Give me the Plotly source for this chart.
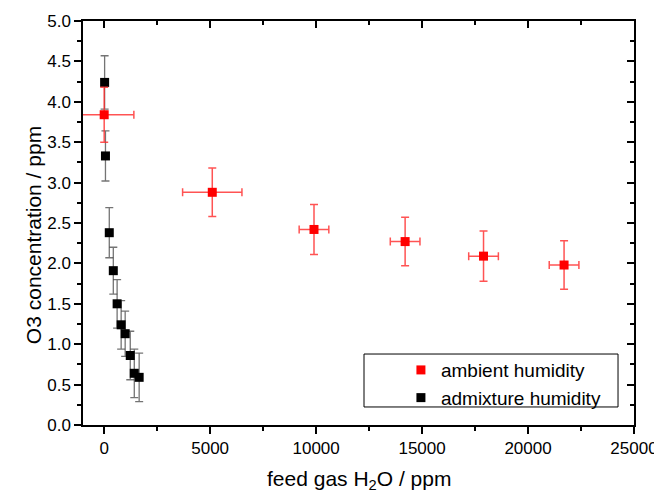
import plotly.graph_objects as go

# ambient humidity (red)
amb_h2o = [0, 5100, 9900, 14200, 17900, 21700]
amb_h2o_err = [1400, 1400, 700, 700, 700, 700]
amb_o3 = [3.84, 2.88, 2.42, 2.27, 2.09, 1.98]
amb_o3_err = [0.34, 0.30, 0.31, 0.30, 0.31, 0.30]

# admixture humidity (black)
adm_h2o = [20, 60, 240, 430, 610, 800, 990, 1230, 1420, 1650]
adm_o3 = [4.24, 3.33, 2.38, 1.91, 1.50, 1.24, 1.13, 0.86, 0.64, 0.59]
adm_o3_err = [0.33, 0.31, 0.31, 0.29, 0.30, 0.30, 0.28, 0.30, 0.30, 0.30]

fnt = "Liberation Sans, Arial, sans-serif"

fig = go.Figure()

fig.add_trace(go.Scatter(
    x=adm_h2o, y=adm_o3, mode="markers", name="admixture humidity",
    marker=dict(symbol="square", size=9, color="black"),
    error_y=dict(type="data", array=adm_o3_err, color="rgba(70,70,70,0.75)",
                 thickness=1.3, width=4),
))
# red series on the mirrored (top/right) axes so those get drawn too
fig.add_trace(go.Scatter(
    x=amb_h2o, y=amb_o3, mode="markers", name="ambient humidity",
    xaxis="x2", yaxis="y2",
    marker=dict(symbol="square", size=9, color="red"),
    error_y=dict(type="data", array=amb_o3_err, color="rgba(255,40,40,0.8)",
                 thickness=1.5, width=4),
    error_x=dict(type="data", array=amb_h2o_err, color="rgba(255,40,40,0.8)",
                 thickness=1.5, width=4),
))

axis_common = dict(showline=True, linecolor="black", linewidth=1.5,
                   showgrid=False, zeroline=False, ticklen=7, tickwidth=1.5,
                   tickcolor="black", automargin=False)
xminor = dict(dtick=2500, tick0=0, ticklen=4, tickwidth=1.5, tickcolor="black")
yminor = dict(dtick=0.25, tick0=0, ticklen=4, tickwidth=1.5, tickcolor="black")

# page body has an 8px margin, so the figure is 8px smaller than the window
fig.update_layout(
    width=654, height=485,
    margin=dict(l=75, r=28, t=13, b=68),
    plot_bgcolor="white", paper_bgcolor="white",
    font=dict(family=fnt, size=17, color="black"),
    xaxis=dict(range=[-1000, 25000], dtick=5000, tick0=0, ticks="outside",
               tickformat="d", minor=dict(ticks="outside", **xminor),
               **axis_common),
    yaxis=dict(range=[0, 5], dtick=0.5, tick0=0, ticks="outside",
               tickformat=".1f", minor=dict(ticks="outside", **yminor),
               **axis_common),
    xaxis2=dict(overlaying="x", side="top", range=[-1000, 25000], dtick=5000,
                tick0=0, ticks="inside", showticklabels=False,
                minor=dict(ticks="inside", **xminor), **axis_common),
    yaxis2=dict(overlaying="y", side="right", range=[0, 5], dtick=0.5,
                tick0=0, ticks="inside", showticklabels=False,
                minor=dict(ticks="inside", **yminor), **axis_common),
    legend=dict(x=0.577, y=0.183, xanchor="left", yanchor="top",
                bgcolor="rgba(0,0,0,0)", borderwidth=0,
                font=dict(size=19), traceorder="reversed"),
    shapes=[dict(type="rect", xref="paper", yref="paper",
                 x0=0.510, x1=0.971, y0=0.0446, y1=0.1757,
                 line=dict(color="black", width=1), fillcolor="rgba(0,0,0,0)")],
    annotations=[
        dict(text="feed gas H<sub>2</sub>O / ppm", xref="paper", yref="paper",
             x=0.5, y=-0.136, xanchor="center", yanchor="middle",
             showarrow=False, font=dict(size=21)),
        dict(text="O3 concentration / ppm", xref="paper", yref="paper",
             x=-0.0907, y=0.470, xanchor="center", yanchor="middle",
             textangle=-90, showarrow=False, font=dict(size=21)),
    ],
)

fig.write_html("out.html")
